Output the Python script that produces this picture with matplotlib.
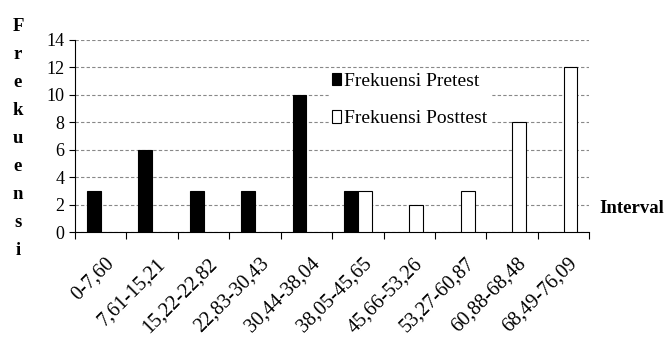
import numpy as np
import matplotlib.pyplot as plt
from matplotlib.transforms import ScaledTranslation

intervals = ['0-7,60', '7,61-15,21', '15,22-22,82', '22,83-30,43', '30,44-38,04',
             '38,05-45,65', '45,66-53,26', '53,27-60,87', '60,88-68,48', '68,49-76,09']
pretest = [3, 6, 3, 3, 10, 3, 0, 0, 0, 0]
posttest = [0, 0, 0, 0, 0, 3, 2, 3, 8, 12]

plt.rcParams['font.family'] = ['Liberation Serif', 'DejaVu Serif']

fig = plt.figure(figsize=(6.67, 3.47), dpi=100)
ax = fig.add_axes([0.1125, 0.331, 0.771, 0.554])

x = np.arange(len(intervals))
w = 0.27
pre = [v if v > 0 else np.nan for v in pretest]
post = [v if v > 0 else np.nan for v in posttest]
ax.bar(x - w / 2, pre, w, color='black', edgecolor='black', linewidth=0.8,
       label='Frekuensi Pretest', zorder=3)
ax.bar(x + w / 2, post, w, color='white', edgecolor='black', linewidth=0.8,
       label='Frekuensi Posttest', zorder=3)

ax.set_xlim(-0.5, len(intervals) - 0.5)
ax.set_ylim(0, 14)
ax.set_yticks(range(0, 15, 2))
ax.tick_params(axis='y', labelsize=13, length=4, direction='out')
ax.set_xticks(np.arange(-0.5, len(intervals), 1))
ax.set_xticklabels([])
ax.set_xticks(x, minor=True)
ax.set_xticklabels(intervals, minor=True, rotation=45, ha='right', va='top',
                   rotation_mode='anchor', fontsize=14.5)
ax.tick_params(axis='x', which='minor', length=0, pad=16)
ax.tick_params(axis='x', which='major', length=5, direction='out')
shift = ScaledTranslation(4 / 100, 0, fig.dpi_scale_trans)
for lbl in ax.get_xticklabels(minor=True):
    lbl.set_transform(lbl.get_transform() + shift)

ax.yaxis.grid(True, linestyle=(0, (3, 2)), color='#888888', linewidth=0.8, zorder=0)
for s in ['top', 'right']:
    ax.spines[s].set_visible(False)

leg = ax.legend(loc='upper left', bbox_to_anchor=(0.474, 0.90), frameon=True,
                fontsize=14, handlelength=0.45, handleheight=0.6, handletextpad=0.15,
                labelspacing=1.05, borderpad=0.2, fancybox=False)
leg.get_frame().set_edgecolor('white')
leg.get_frame().set_alpha(1)

fig.text(0.899, 0.40, 'Interval', fontsize=13.5, fontweight='bold', ha='left', va='center')

letters = 'Frekuensi'
for i, ch in enumerate(letters):
    fig.text(0.027, 0.925 - i * 0.081, ch, fontsize=13.5, fontweight='bold',
             ha='center', va='center')

plt.savefig('out.png', dpi=100)
